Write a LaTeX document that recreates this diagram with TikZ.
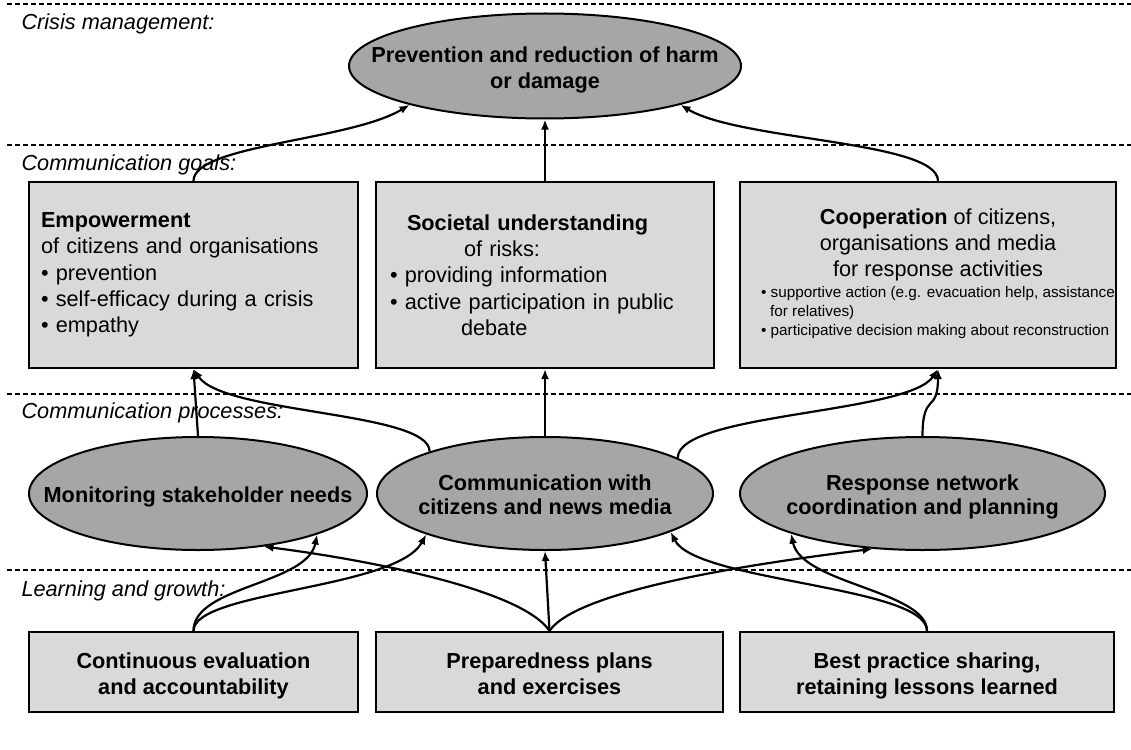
\documentclass[tikz,border=0pt]{standalone}
\usepackage{fontspec}
\setmainfont{Liberation Sans}
\usetikzlibrary{shapes.geometric,arrows.meta}
\definecolor{boxgray}{RGB}{217,217,217}
\definecolor{ellgray}{RGB}{166,166,166}
\newcommand{\basefont}{\fontsize{21.7pt}{26.3pt}\selectfont}
\newcommand{\smallfont}{\fontsize{15.3pt}{19pt}\selectfont}
\newcommand{\celltext}[1]{\makebox[0pt]{\raisebox{-4pt}[\height][\depth]{\begin{tabular}{@{}c@{}}#1\end{tabular}}}}

\begin{document}
\begin{tikzpicture}[x=1pt,y=-1pt,
  band/.style={dash pattern=on 5pt off 3pt, line width=2.1pt},
  layer/.style={anchor=west, font=\basefont\itshape},
  goalbox/.style={draw, line width=2.2pt, fill=boxgray, minimum height=186pt, inner sep=0pt, font=\basefont},
  learnbox/.style={draw, line width=2.2pt, fill=boxgray, minimum height=80pt, inner sep=0pt, font=\fontsize{21.7pt}{26pt}\selectfont\bfseries},
  crisisell/.style={ellipse, draw, line width=2pt, fill=ellgray, inner sep=0pt, minimum width=392pt, minimum height=105pt, font=\basefont\bfseries},
  procell/.style={ellipse, draw, line width=2pt, fill=ellgray, inner sep=0pt, minimum height=113pt, font=\fontsize{21.7pt}{24pt}\selectfont\bfseries},
  conn/.style={line width=2.2pt, -{Latex[length=10pt,width=8pt]}}]
  \useasboundingbox (0,0) rectangle (1131,749);

  % layer borders
  \draw[band] (7,4) -- (1131,4);
  \draw[band] (7,145) -- (1131,145);
  \draw[band] (7,394) -- (1131,394);
  \draw[band] (7,570) -- (1131,570);
  \node[layer] (lcrisis) at (18,24) {Crisis management:};
  \node[layer] (lgoals) at (18,165) {Communication goals:};
  \node[layer] (lproc) at (18,413) {Communication processes:};
  \node[layer] (llearn) at (18,591) {Learning and growth:};

  % crisis management
  \node[crisisell] (crisis) at (545,66) {\celltext{Prevention and reduction of harm\\or damage}};

  % communication goals
  \node[goalbox, minimum width=329pt, text width=305pt, align=left] (g1) at (193.5,275)
    {\textbf{Empowerment}\\ of citizens and organisations\\ \textbullet\ prevention\\ \textbullet\ self-efficacy during a crisis\\ \textbullet\ empathy};
  \node[goalbox, minimum width=338pt, text width=310pt, align=left] (g2) at (545,275)
    {\hspace*{17pt}\textbf{Societal understanding}\\ \hspace*{74pt}of risks:\\ \textbullet\ providing information\\ \textbullet\ active participation in public\\ \hspace*{71pt}debate};
  \node[goalbox, minimum width=376pt, align=center] (g3) at (928,275)
    {\hspace*{20pt}\textbf{Cooperation} of citizens,\\ \hspace*{20pt}organisations and media\\ \hspace*{20pt}for response activities\\[-5.5pt]
     \hspace*{20pt}{\smallfont\begin{tabular}[t]{@{}l@{}}\textbullet\ supportive action (e.g. evacuation help, assistance\\ \hspace*{9pt}for relatives)\\ \textbullet\ participative decision making about reconstruction\end{tabular}}};

  % communication processes
  \node[procell, minimum width=338pt] (p1) at (198,493.5) {\celltext{Monitoring stakeholder needs}};
  \node[procell, minimum width=336pt] (p2) at (545,493.5) {\celltext{Communication with\\citizens and news media}};
  \node[procell, minimum width=365pt] (p3) at (922.5,493.5) {\celltext{Response network\\coordination and planning}};

  % learning and growth
  \node[learnbox, minimum width=329pt] (l1) at (193.5,672) {\celltext{Continuous evaluation\\and accountability}};
  \node[learnbox, minimum width=347pt] (l2) at (549.5,672) {\celltext{Preparedness plans\\and exercises}};
  \node[learnbox, minimum width=374pt] (l3) at (927,672) {\celltext{Best practice sharing,\\retaining lessons learned}};

  % goals -> crisis management
  \draw[conn] (g1.north) .. controls +(0,-36) and +(-60,36) .. (crisis.196);
  \draw[conn] (g2.north) -- (crisis.south);
  \draw[conn] ([xshift=10pt]g3.north) .. controls +(0,-40) and +(60,36) .. (crisis.-16);

  % processes -> goals
  \draw[conn] (p1.north) -- (g1.south);
  \draw[conn] (p2.160) .. controls +(0,-40) and +(30,45) .. (g1.south);
  \draw[conn] (p2.north) -- (g2.south);
  \draw[conn] (p2.15) .. controls +(0,-45) and +(-30,45) .. ([xshift=10pt]g3.south);
  \draw[conn] (p3.north) .. controls +(0,-45) and +(0,45) .. ([xshift=10pt]g3.south);

  % learning -> processes
  \draw[conn] (l1.north) .. controls +(0,-45) and +(-10,50) .. (p1.-19);
  \draw[conn] (l1.north) .. controls +(0,-40) and +(-30,55) .. (p2.199);
  \draw[conn] (l2.north) .. controls +(-30,-45) and +(80,10) .. (p1.-39);
  \draw[conn] (l2.north) -- (p2.south);
  \draw[conn] (l2.north) .. controls +(30,-45) and +(-80,10) .. (p3.-132);
  \draw[conn] (l3.north) .. controls +(0,-45) and +(25,50) .. (p2.-17);
  \draw[conn] (l3.north) .. controls +(0,-40) and +(10,50) .. (p3.197);
\end{tikzpicture}
\end{document}
